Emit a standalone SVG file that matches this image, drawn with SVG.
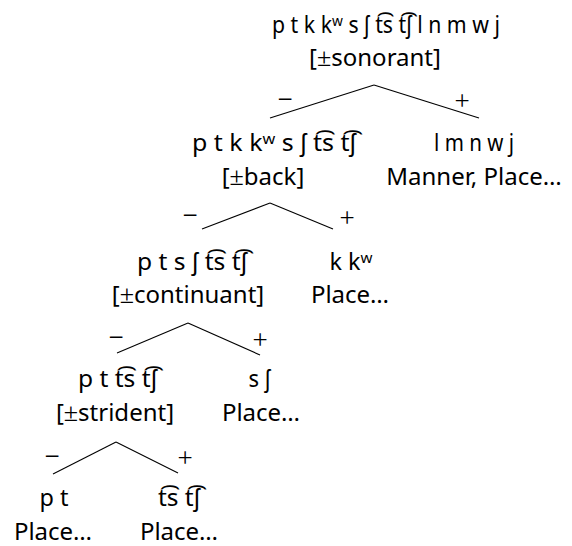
<svg xmlns="http://www.w3.org/2000/svg" width="572" height="546" viewBox="0 0 572 546">
<style>
text{font-family:"Noto Sans","DejaVu Sans",sans-serif;font-size:24px;fill:#000;text-anchor:middle}
.m{font-family:"Liberation Serif","DejaVu Serif",serif;font-size:26px}
.s{font-family:"Liberation Serif","DejaVu Serif",serif;font-size:27px}
line{stroke:#000;stroke-width:1.1}
</style>
<rect width="572" height="546" fill="#fff"/>
<g id="connectors">
<line x1="374" y1="85" x2="270" y2="118"/>
<line x1="374" y1="85" x2="479" y2="118"/>
<text class="s" x="285" y="108">−</text>
<text class="s" x="462" y="110">+</text>
<line x1="270" y1="203" x2="202" y2="229"/>
<line x1="270" y1="203" x2="333" y2="229"/>
<text class="s" x="190" y="224">−</text>
<text class="s" x="347" y="227">+</text>
<line x1="188" y1="323" x2="117" y2="353"/>
<line x1="188" y1="323" x2="260" y2="355"/>
<text class="s" x="116" y="346">−</text>
<text class="s" x="260" y="349">+</text>
<line x1="116" y1="442" x2="53" y2="474"/>
<line x1="116" y1="442" x2="178" y2="473"/>
<text class="s" x="52" y="465">−</text>
<text class="s" x="185" y="467">+</text>
</g>
<g id="n0">
<text x="386" y="33" textLength="228" lengthAdjust="spacingAndGlyphs">p t k kʷ s ʃ t͡s t͡ʃ l n m w j</text>
<text x="375" y="66">[<tspan class="m">±</tspan>sonorant]</text>
</g>
<g id="n1">
<text x="274" y="151" textLength="164" lengthAdjust="spacingAndGlyphs">p t k kʷ s ʃ t͡s t͡ʃ</text>
<text x="263" y="185">[<tspan class="m">±</tspan>back]</text>
</g>
<g id="n2">
<text x="474" y="151" textLength="80" lengthAdjust="spacingAndGlyphs">l m n w j</text>
<text x="474" y="185">Manner, Place…</text>
</g>
<g id="n3">
<text x="192" y="270" textLength="110" lengthAdjust="spacingAndGlyphs">p t s ʃ t͡s t͡ʃ</text>
<text x="188" y="303">[<tspan class="m">±</tspan>continuant]</text>
</g>
<g id="n4">
<text x="351" y="270" textLength="43" lengthAdjust="spacingAndGlyphs">k kʷ</text>
<text x="350" y="303">Place…</text>
</g>
<g id="n5">
<text x="117.5" y="387" textLength="79" lengthAdjust="spacingAndGlyphs">p t t͡s t͡ʃ</text>
<text x="115" y="421">[<tspan class="m">±</tspan>strident]</text>
</g>
<g id="n6">
<text x="259.5" y="387" textLength="22" lengthAdjust="spacingAndGlyphs">s ʃ</text>
<text x="261" y="421">Place…</text>
</g>
<g id="n7">
<text x="54" y="506" textLength="29" lengthAdjust="spacingAndGlyphs">p t</text>
<text x="53" y="540">Place…</text>
</g>
<g id="n8">
<text x="179" y="506" textLength="42" lengthAdjust="spacingAndGlyphs">t͡s t͡ʃ</text>
<text x="179" y="540">Place…</text>
</g>
</svg>
